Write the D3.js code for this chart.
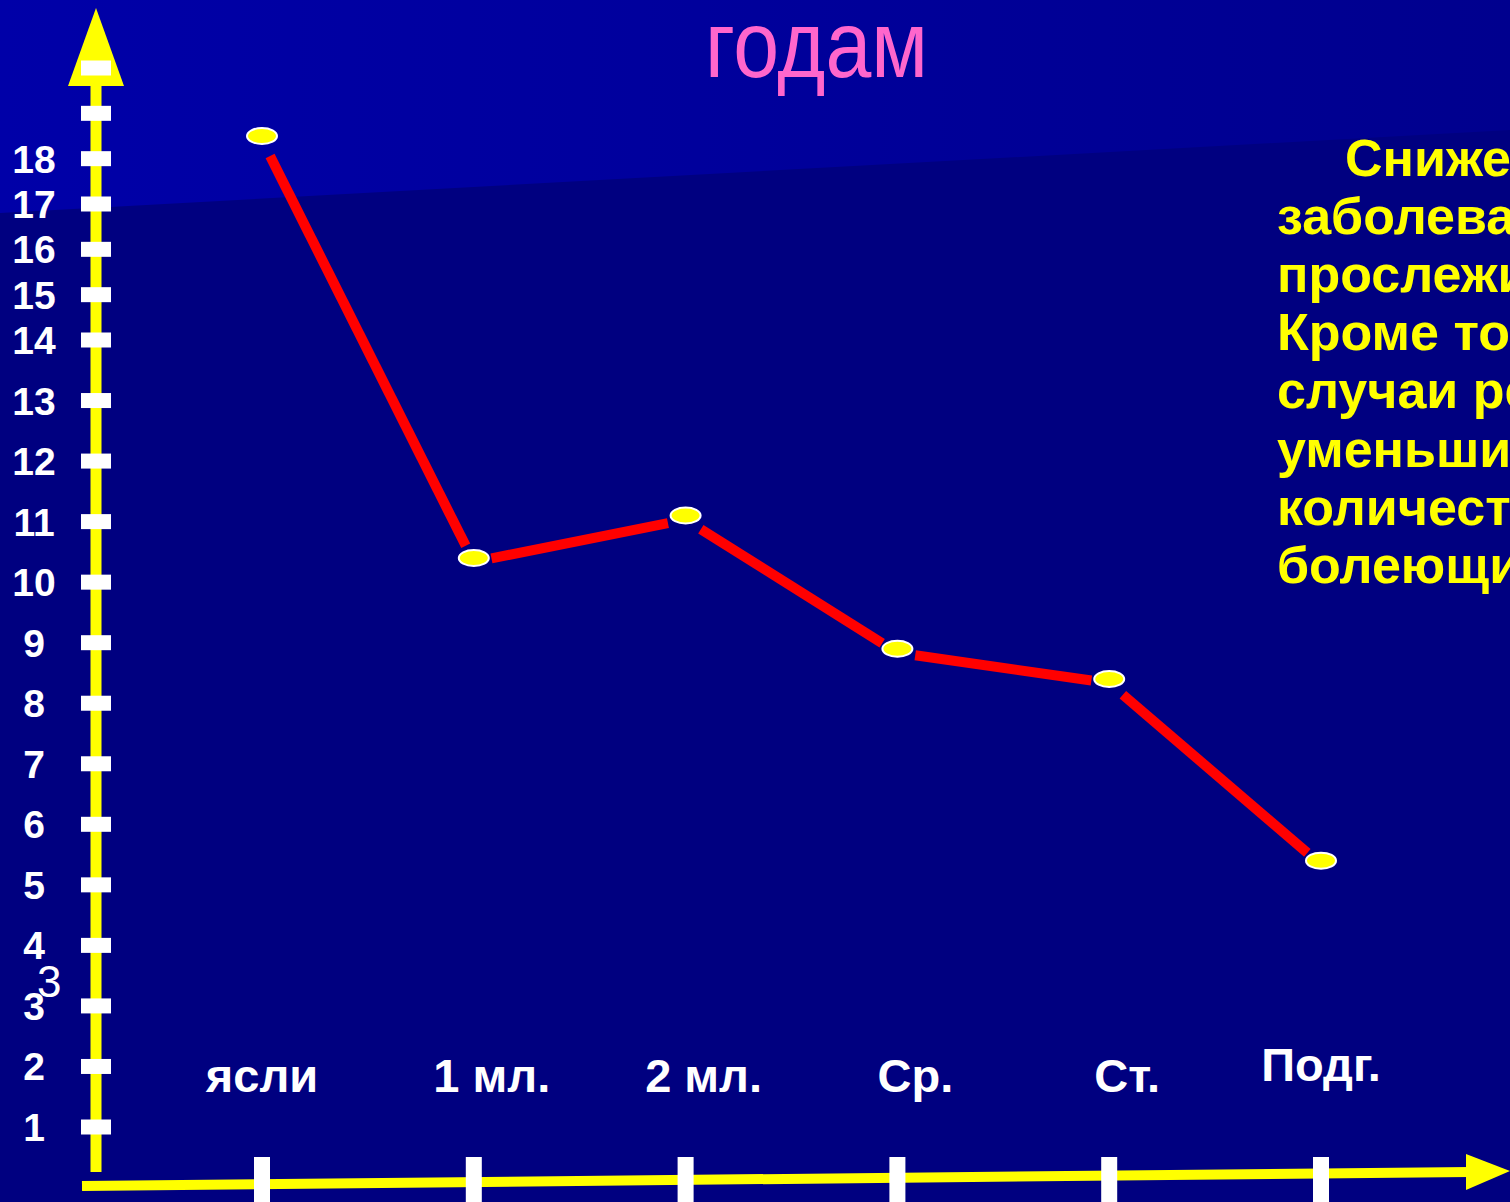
<!DOCTYPE html>
<html>
<head>
<meta charset="utf-8">
<script src="https://cdn.jsdelivr.net/npm/d3@7"></script>
<style>
  html, body { margin: 0; padding: 0; background: #000080; overflow: hidden; }
</style>
</head>
<body>
<div id="chart"></div>
<script>
// data
var categories = ["ясли", "1 мл.", "2 мл.", "Ср.", "Ст.", "Подг."];
var values = [18.5, 10.4, 11.1, 8.9, 8.4, 5.4];
var tickValues = d3.range(1, 21);
var tickLabels = ["1", "2", "3", "4", "5", "6", "7", "8", "9", "10",
  "11", "12", "13", "14", "15", "16", "17", "18", "", ""];
var titleText = "годам";
var noteLines = ["Снижение", "заболеваемости", "прослеживается.", "Кроме того,",
  "случаи реже,", "уменьшилось", "количество", "болеющих детей"];

var svgWidth = 1510;
var svgHeight = 1202;

var svg = d3.select("#chart")
  .append("svg")
  .attr("width", svgWidth)
  .attr("height", svgHeight);

// background: navy with lighter band on top
var defs = svg.append("defs");
var grad = defs.append("linearGradient")
  .attr("id", "topGrad")
  .attr("x1", "0%").attr("x2", "100%")
  .attr("y1", "0%").attr("y2", "0%");
grad.append("stop").attr("offset", "0%").attr("stop-color", "#0000a8");
grad.append("stop").attr("offset", "100%").attr("stop-color", "#00008e");

svg.append("rect")
  .attr("width", svgWidth)
  .attr("height", svgHeight)
  .attr("fill", "#000080");

svg.append("polygon")
  .attr("points", "0,0 1510,0 1510,130 0,213")
  .attr("fill", "url(#topGrad)");

// scales
var xScale = d3.scalePoint()
  .domain(categories)
  .range([262, 1321]);

// axis is not evenly spaced: wider steps below 14
var yScale = d3.scaleLinear()
  .domain([1, 14, 20])
  .range([1127, 340, 68]);

var axisX = 96;

// y axis line + arrow
svg.append("rect")
  .attr("x", axisX - 5.5)
  .attr("y", 80)
  .attr("width", 11)
  .attr("height", 1172 - 80)
  .attr("fill", "#ffff00");

svg.append("polygon")
  .attr("points", `${axisX},8 ${axisX + 28},86 ${axisX - 28},86`)
  .attr("fill", "#ffff00");

// y ticks
svg.selectAll(".ytick")
  .data(tickValues)
  .enter()
  .append("rect")
  .attr("class", "ytick")
  .attr("x", axisX - 15)
  .attr("y", d => yScale(d) - 7.5)
  .attr("width", 30)
  .attr("height", 15)
  .attr("fill", "#ffffff");

svg.selectAll(".ylabel")
  .data(tickValues)
  .enter()
  .append("text")
  .attr("class", "ylabel")
  .attr("x", 34)
  .attr("y", d => yScale(d) + 14)
  .attr("text-anchor", "middle")
  .style("font-family", "'Liberation Sans', Arial, sans-serif")
  .style("font-weight", "bold")
  .style("font-size", "39px")
  .attr("fill", "#ffffff")
  .text((d, i) => tickLabels[i]);

// stray "3" next to the axis
svg.append("text")
  .attr("x", 37)
  .attr("y", yScale(3) - 9)
  .style("font-family", "'Liberation Sans', Arial, sans-serif")
  .style("font-size", "44px")
  .attr("fill", "#ffffff")
  .text("3");

// x axis (slightly tilted) + arrow
svg.append("line")
  .attr("x1", 82).attr("y1", 1186)
  .attr("x2", 1470).attr("y2", 1172)
  .attr("stroke", "#ffff00")
  .attr("stroke-width", 10);

svg.append("polygon")
  .attr("points", "1510,1171 1466,1154 1466,1190")
  .attr("fill", "#ffff00");

svg.selectAll(".xtick")
  .data(categories)
  .enter()
  .append("rect")
  .attr("class", "xtick")
  .attr("x", d => xScale(d) - 8)
  .attr("y", 1157)
  .attr("width", 16)
  .attr("height", 50)
  .attr("fill", "#ffffff");

svg.selectAll(".xlabel")
  .data(categories)
  .enter()
  .append("text")
  .attr("class", "xlabel")
  .attr("x", (d, i) => xScale(d) + (i > 0 && i < categories.length - 1 ? 18 : 0))
  .attr("y", (d, i) => i === categories.length - 1 ? 1081 : 1092)
  .attr("text-anchor", "middle")
  .style("font-family", "'Liberation Sans', Arial, sans-serif")
  .style("font-weight", "bold")
  .style("font-size", "47px")
  .attr("fill", "#ffffff")
  .text(d => d);

// red segments, shortened so they stop short of the markers
var pts = categories.map((c, i) => [xScale(c), yScale(values[i])]);
var segs = d3.pairs(pts);
var gap = 18;

svg.selectAll(".seg")
  .data(segs)
  .enter()
  .append("line")
  .attr("class", "seg")
  .each(function (s) {
    var dx = s[1][0] - s[0][0];
    var dy = s[1][1] - s[0][1];
    var len = Math.sqrt(dx * dx + dy * dy);
    var ux = dx / len, uy = dy / len;
    d3.select(this)
      .attr("x1", s[0][0] + ux * gap)
      .attr("y1", s[0][1] + uy * gap + 4)
      .attr("x2", s[1][0] - ux * gap)
      .attr("y2", s[1][1] - uy * gap + 4);
  })
  .attr("stroke", "#ff0000")
  .attr("stroke-width", 10);

// markers
svg.selectAll(".dot")
  .data(values)
  .enter()
  .append("ellipse")
  .attr("class", "dot")
  .attr("cx", (d, i) => xScale(categories[i]))
  .attr("cy", d => yScale(d))
  .attr("rx", 15)
  .attr("ry", 8)
  .attr("fill", "#ffff00")
  .attr("stroke", "#ffffff")
  .attr("stroke-width", 2);

// title
svg.append("text")
  .attr("x", 705)
  .attr("y", 77)
  .attr("textLength", 223)
  .attr("lengthAdjust", "spacingAndGlyphs")
  .style("font-family", "'Liberation Sans', Arial, sans-serif")
  .style("font-size", "94px")
  .attr("fill", "#ff66cc")
  .text(titleText);

// note on the right (runs off the page)
svg.selectAll(".note")
  .data(noteLines)
  .enter()
  .append("text")
  .attr("class", "note")
  .attr("x", (d, i) => i === 0 ? 1345 : 1277)
  .attr("y", (d, i) => 176 + i * 58.1)
  .style("font-family", "'Liberation Sans', Arial, sans-serif")
  .style("font-weight", "bold")
  .style("font-size", "52px")
  .attr("fill", "#ffff00")
  .text(d => d);
</script>
</body>
</html>
